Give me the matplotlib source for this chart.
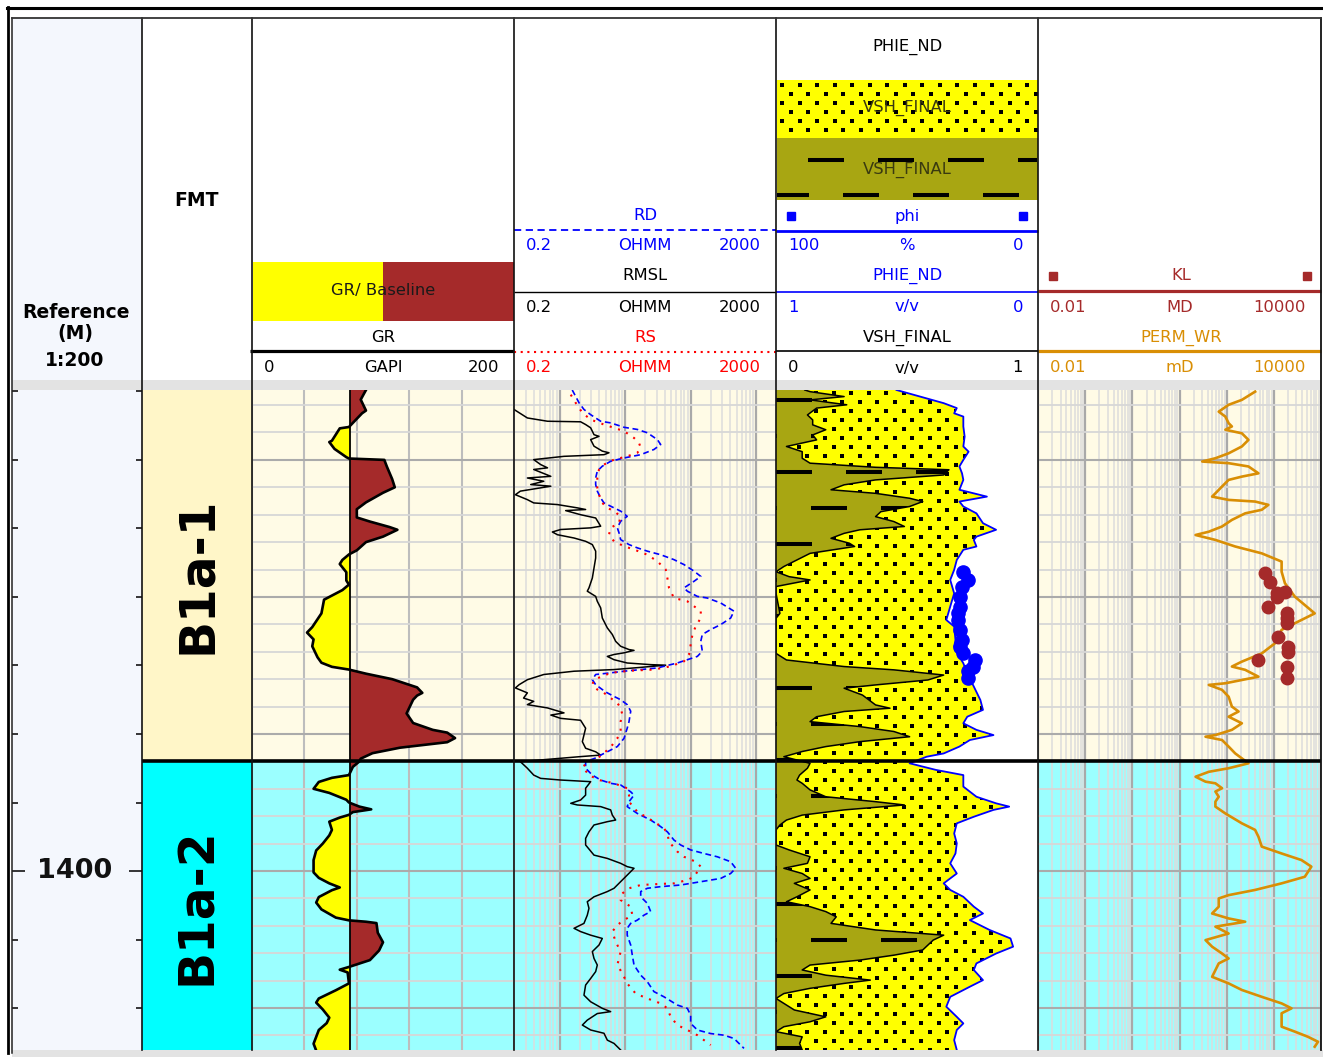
import numpy as np
import matplotlib
matplotlib.use("Agg")
import matplotlib.pyplot as plt
from matplotlib.collections import LineCollection
from matplotlib.patches import Rectangle, Polygon
from matplotlib.ticker import MultipleLocator, LogLocator

plt.rcParams['font.family'] = ['DejaVu Sans']

# ---------------------------------------------------------------- data
DEPTH_TOP, DEPTH_BOT = 1382.45, 1406.53
zone_names = ['B1a-1', 'B1a-2']
zone_top = [1382.45, 1396.0]
zone_base = [1396.0, 1406.53]

GR_RANGE = (0, 200)
GR_BASE = 75
RES_RANGE = (0.2, 2000)
PERM_RANGE = (0.01, 10000)

gr_depth = [1382.45, 1382.8, 1383.2, 1383.3, 1383.6, 1383.8, 1383.85, 1384.3, 1384.35, 1384.6,
            1384.9, 1384.95, 1385.0, 1385.25, 1385.7, 1386.0, 1386.2, 1386.55, 1386.8, 1387.1,
            1387.25, 1387.45, 1387.55, 1387.8, 1388.0, 1388.3, 1388.45, 1388.65, 1388.8, 1389.1,
            1389.4, 1389.55, 1389.75, 1390.0, 1390.1, 1390.6, 1391.1, 1391.3, 1391.55, 1391.8,
            1392.2, 1392.4, 1392.55, 1392.65, 1392.8, 1393.0, 1393.3, 1393.5, 1393.6, 1393.75,
            1394.25, 1394.6, 1394.85, 1394.95, 1395.15, 1395.3, 1395.5, 1395.7, 1395.9, 1396.0,
            1396.2, 1396.5, 1396.6, 1396.75, 1397.0, 1397.15, 1397.4, 1397.5, 1397.65, 1397.75,
            1397.85, 1397.95, 1398.05, 1398.2, 1398.5, 1398.7, 1399.0, 1399.25, 1399.6, 1400.05,
            1400.25, 1400.45, 1400.6, 1400.7, 1400.95, 1401.15, 1401.4, 1401.7, 1401.8, 1401.85,
            1401.9, 1402.25, 1402.6, 1402.9, 1403.25, 1403.5, 1403.6, 1403.7, 1404.1, 1404.35,
            1404.65, 1404.8, 1405.05, 1405.35, 1405.55, 1405.8, 1406.05, 1406.3, 1406.55]
gr_value = [87, 83, 87, 84, 78, 74, 67, 61, 59, 63,
            72, 74, 101, 103, 107, 109, 100, 87, 80, 80,
            90, 105, 111, 100, 87, 80, 74, 69, 67, 72,
            72, 74, 69, 59, 55, 53, 46, 42, 47, 46,
            50, 53, 61, 74, 87, 107, 126, 130, 126, 123,
            118, 123, 138, 149, 155, 149, 113, 92, 83, 82,
            77, 74, 61, 51, 47, 59, 72, 74, 82, 91,
            77, 74, 67, 59, 61, 59, 54, 49, 47, 47,
            51, 59, 67, 61, 51, 49, 53, 64, 74, 87,
            95, 96, 100, 97, 90, 74, 67, 73, 74, 64,
            51, 49, 54, 59, 57, 51, 49, 47, 49]

rmsl_depth = [1382.45, 1383.0, 1383.16, 1383.47, 1383.59, 1383.61, 1383.71, 1383.83, 1384.08, 1384.14,
              1384.26, 1384.50, 1384.68, 1384.74, 1384.81, 1384.87, 1384.99, 1385.17, 1385.29, 1385.35,
              1385.60, 1385.66, 1385.78, 1385.90, 1385.96, 1386.14, 1386.27, 1386.45, 1386.57, 1386.63,
              1386.75, 1386.81, 1386.85, 1387.00, 1387.12, 1387.42, 1387.48, 1387.54, 1387.63, 1387.73,
              1387.85, 1387.97, 1388.09, 1388.33, 1388.58, 1388.94, 1389.31, 1389.67, 1389.79, 1389.98,
              1390.16, 1390.40, 1390.77, 1390.89, 1391.13, 1391.37, 1391.62, 1391.80, 1391.92, 1391.95,
              1392.04, 1392.10, 1392.17, 1392.29, 1392.41, 1392.47, 1392.49, 1392.57, 1392.65, 1392.71,
              1392.83, 1393.02, 1393.20, 1393.32, 1393.50, 1393.69, 1393.81, 1393.93, 1394.05, 1394.23,
              1394.31, 1394.43, 1394.50, 1394.79, 1395.28, 1395.52, 1395.65, 1395.77, 1395.83, 1396.01,
              1396.25, 1396.50, 1396.62, 1396.68, 1396.74, 1396.98, 1397.23, 1397.41, 1397.53, 1397.59,
              1397.65, 1397.77, 1397.96, 1398.14, 1398.20, 1398.32, 1398.57, 1398.81, 1399.05, 1399.42,
              1399.54, 1399.72, 1399.84, 1399.90, 1400.15, 1400.39, 1400.63, 1400.75, 1400.94, 1401.12,
              1401.36, 1401.61, 1401.91, 1402.09, 1402.21, 1402.34, 1402.46, 1402.70, 1402.94, 1403.19,
              1403.43, 1403.67, 1403.92, 1404.16, 1404.53, 1404.77, 1405.01, 1405.13, 1405.20, 1405.44,
              1405.62, 1405.80, 1405.92, 1406.17, 1406.29, 1406.53]
rmsl_value = [0.12, 0.15, 0.2, 0.32, 0.65, 2.08, 2.48, 2.96, 3.33, 3.97,
              2.96, 3.33, 4.46, 5.64, 4.73, 1.16, 0.40, 0.51, 0.65, 0.40,
              0.73, 0.32, 0.57, 0.36, 0.73, 0.25, 0.21, 0.32, 0.40, 0.92,
              1.85, 2.48, 1.23, 2.08, 3.53, 4.21, 2.96, 1.03, 0.77, 0.92,
              1.65, 2.48, 3.14, 3.53, 3.53, 3.33, 3.14, 2.79, 2.63, 3.53,
              3.74, 4.21, 4.46, 4.73, 5.32, 6.34, 7.13, 8.5, 11.4, 13.6,
              9.5, 6.73, 5.32, 6.73, 10.7, 24.4, 41.4, 17.2, 6.73, 1.65,
              0.57, 0.32, 0.24, 0.21, 0.32, 0.28, 0.40, 0.32, 0.65, 1.16,
              0.73, 1.03, 2.08, 2.48, 2.21, 2.48, 3.53, 4.21, 1.97, 0.25,
              0.32, 0.40, 0.51, 1.03, 2.96, 2.48, 2.48, 2.08, 1.47, 1.85,
              4.21, 5.98, 6.34, 7.13, 5.32, 3.33, 2.79, 2.48, 2.48, 3.33,
              5.32, 8.5, 10.7, 13.6, 10.7, 8.5, 6.73, 5.32, 3.33, 2.63,
              2.79, 2.63, 2.34, 1.65, 2.08, 2.96, 4.46, 3.97, 3.14, 3.33,
              3.74, 3.53, 2.96, 2.48, 2.34, 2.96, 4.46, 5.98, 3.74, 2.63,
              2.21, 2.96, 4.73, 5.32, 6.73, 8.5]

rd_depth = [1382.45, 1382.92, 1383.16, 1383.35, 1383.59, 1383.65, 1383.81, 1383.89, 1384.01, 1384.26,
            1384.44, 1384.62, 1384.81, 1384.93, 1385.05, 1385.23, 1385.41, 1385.66, 1385.90, 1386.14,
            1386.39, 1386.57, 1386.69, 1386.87, 1387.06, 1387.24, 1387.48, 1387.66, 1387.91, 1388.09,
            1388.21, 1388.33, 1388.46, 1388.64, 1388.82, 1389.06, 1389.25, 1389.43, 1389.67, 1389.79,
            1389.98, 1390.04, 1390.22, 1390.52, 1390.77, 1391.01, 1391.19, 1391.37, 1391.62, 1391.98,
            1392.17, 1392.29, 1392.41, 1392.59, 1392.65, 1392.71, 1392.77, 1392.83, 1393.02, 1393.20,
            1393.38, 1393.50, 1393.63, 1393.75, 1393.93, 1394.17, 1394.55, 1394.79, 1395.16, 1395.46,
            1395.65, 1395.77, 1395.83, 1396.01, 1396.25, 1396.50, 1396.68, 1396.80, 1396.86, 1397.11,
            1397.23, 1397.47, 1397.65, 1397.90, 1398.14, 1398.38, 1398.57, 1398.87, 1399.05, 1399.23,
            1399.36, 1399.48, 1399.66, 1399.90, 1400.09, 1400.27, 1400.39, 1400.51, 1400.57, 1400.63,
            1400.75, 1400.94, 1401.18, 1401.48, 1401.61, 1401.79, 1401.91, 1402.09, 1402.34, 1402.70,
            1403.07, 1403.43, 1403.80, 1404.04, 1404.40, 1404.59, 1404.89, 1405.01, 1405.26, 1405.56,
            1405.80, 1405.93, 1405.99, 1406.11, 1406.47]
rd_value = [1.55, 1.97, 2.34, 2.96, 4.21, 5.98, 9.56, 15.3, 21.7, 30.9,
            34.7, 27.4, 17.2, 9.56, 5.98, 4.46, 3.74, 3.53, 3.53, 3.74,
            4.21, 4.73, 5.98, 8.5, 10.7, 8.5, 7.56, 8.02, 8.5, 11.4,
            15.3, 21.7, 34.7, 55.4, 78.8, 112, 142, 112, 78.8, 88.6,
            126, 179, 286, 457, 406, 286, 201, 150, 142, 150,
            126, 88.6, 62.3, 30.9, 17.2, 9.56, 5.98, 3.53, 3.14, 3.53,
            4.46, 5.32, 6.73, 8.5, 10.7, 12.1, 11.4, 10.7, 9.56, 7.56,
            5.32, 4.21, 3.97, 2.48, 2.48, 3.14, 4.21, 5.98, 8.5, 12.1,
            13.6, 11.4, 10.7, 15.3, 24.4, 34.7, 43.9, 55.4, 70.1, 99.6,
            159, 254, 406, 485, 406, 286, 142, 70.1, 34.7, 21.7,
            17.2, 17.2, 21.7, 24.4, 19.3, 15.3, 12.1, 10.7, 10.7, 12.1,
            12.8, 13.6, 17.2, 21.7, 27.4, 39.0, 62.3, 88.6, 99.6, 99.6,
            126, 201, 322, 457, 649]

rs_depth = [1382.62, 1382.92, 1383.28, 1383.53, 1383.71, 1383.83, 1383.95, 1384.20, 1384.38, 1384.56,
            1384.74, 1384.87, 1384.99, 1385.17, 1385.35, 1385.66, 1386.02, 1386.27, 1386.57, 1386.75,
            1386.87, 1387.06, 1387.30, 1387.48, 1387.73, 1387.97, 1388.15, 1388.27, 1388.46, 1388.70,
            1389.00, 1389.31, 1389.67, 1390.04, 1390.16, 1390.34, 1390.52, 1390.77, 1391.07, 1391.37,
            1391.74, 1392.10, 1392.35, 1392.53, 1392.65, 1392.69, 1392.77, 1393.02, 1393.20, 1393.38,
            1393.50, 1393.69, 1393.87, 1394.05, 1394.29, 1394.54, 1394.85, 1395.16, 1395.40, 1395.58,
            1395.77, 1396.19, 1396.50, 1396.68, 1396.80, 1396.98, 1397.23, 1397.47, 1397.84, 1398.20,
            1398.44, 1398.63, 1398.93, 1399.29, 1399.48, 1399.66, 1399.84, 1400.21, 1400.33, 1400.45,
            1400.47, 1400.51, 1400.63, 1400.82, 1401.06, 1401.30, 1401.61, 1401.79, 1401.97, 1402.21,
            1402.58, 1402.94, 1403.43, 1403.73, 1404.10, 1404.47, 1404.65, 1404.83, 1405.01, 1405.32,
            1405.62, 1405.80, 1405.99, 1406.17, 1406.35]
rs_value = [1.47, 1.75, 2.21, 2.96, 4.73, 6.73, 9.56, 13.6, 16.2, 17.2,
            15.3, 10.7, 6.73, 4.73, 3.97, 3.74, 3.74, 3.97, 4.46, 5.32,
            6.73, 8.5, 8.02, 5.98, 5.64, 6.73, 9.56, 13.6, 21.7, 30.9,
            41.4, 43.9, 46.5, 55.4, 88.6, 112, 142, 142, 119, 106,
            99.6, 94, 78.8, 49.3, 27.4, 12.1, 5.98, 3.33, 3.14, 3.74,
            4.73, 5.98, 7.56, 8.5, 9.0, 8.5, 8.5, 7.56, 6.34, 5.32,
            4.46, 2.21, 2.79, 3.97, 6.73, 10.7, 11.4, 11.4, 15.3, 27.4,
            39.0, 43.9, 46.5, 62.3, 78.8, 119, 142, 112, 88.6, 55.4,
            34.7, 17.2, 11.4, 9.0, 8.5, 12.1, 12.8, 9.56, 7.56, 6.34,
            7.13, 8.5, 7.56, 9.0, 10.7, 14.4, 21.7, 34.7, 43.9, 49.3,
            62.3, 88.6, 126, 159, 201]

vsh_depth = [1382.45, 1382.51, 1382.69, 1382.81, 1382.99, 1383.11, 1383.36, 1383.54, 1383.72, 1383.90,
             1384.09, 1384.27, 1384.51, 1384.70, 1384.94, 1385.12, 1385.27, 1385.36, 1385.55, 1385.73,
             1385.91, 1386.09, 1386.22, 1386.40, 1386.52, 1386.70, 1386.89, 1387.07, 1387.25, 1387.43,
             1387.55, 1387.68, 1387.86, 1388.04, 1388.16, 1388.41, 1388.65, 1388.89, 1389.08, 1389.26,
             1389.38, 1389.62, 1389.87, 1390.60, 1390.78, 1392.06, 1392.30, 1392.54, 1392.66, 1392.85,
             1393.03, 1393.21, 1393.33, 1393.58, 1393.94, 1394.06, 1394.18, 1394.37, 1394.55, 1394.73,
             1394.91, 1395.10, 1395.28, 1395.46, 1395.64, 1395.83, 1396.07, 1396.25, 1396.50, 1396.68,
             1396.80, 1397.04, 1397.29, 1397.47, 1397.59, 1397.77, 1397.96, 1398.14, 1398.32, 1398.50,
             1398.75, 1399.05, 1399.23, 1399.48, 1399.72, 1399.90, 1400.09, 1400.27, 1400.45, 1400.69,
             1400.94, 1401.12, 1401.30, 1401.48, 1401.67, 1401.91, 1402.15, 1402.34, 1402.52, 1402.70,
             1402.88, 1403.07, 1403.25, 1403.43, 1403.61, 1403.80, 1403.98, 1404.10, 1404.28, 1404.47,
             1404.65, 1404.83, 1405.07, 1405.32, 1405.50, 1405.68, 1405.86, 1406.05, 1406.29, 1406.53]
vsh_value = [0.11, 0.13, 0.26, 0.13, 0.27, 0.155, 0.12, 0.14, 0.14, 0.19,
             0.14, 0.155, 0.04, 0.10, 0.10, 0.13, 0.38, 0.66, 0.64, 0.38,
             0.26, 0.21, 0.38, 0.51, 0.56, 0.51, 0.40, 0.38, 0.45, 0.49,
             0.32, 0.26, 0.21, 0.28, 0.30, 0.13, 0.08, 0.03, 0.0, 0.05,
             0.13, 0.0, 0.0, 0.015, 0.0, 0.0, 0.04, 0.26, 0.45, 0.64,
             0.58, 0.38, 0.26, 0.33, 0.38, 0.435, 0.26, 0.155, 0.13, 0.32,
             0.45, 0.51, 0.32, 0.19, 0.10, 0.03, 0.13, 0.12, 0.09, 0.08,
             0.10, 0.13, 0.19, 0.38, 0.49, 0.26, 0.10, 0.04, 0.015, 0.0,
             0.0, 0.0, 0.05, 0.13, 0.12, 0.03, 0.10, 0.13, 0.07, 0.13,
             0.08, 0.04, 0.13, 0.19, 0.23, 0.21, 0.38, 0.64, 0.60, 0.58,
             0.56, 0.45, 0.32, 0.13, 0.10, 0.19, 0.36, 0.26, 0.13, 0.03,
             0.0, 0.03, 0.07, 0.19, 0.13, 0.03, 0.0, 0.10, 0.09, 0.10]

phie_depth = [1382.45, 1382.69, 1382.93, 1383.11, 1383.30, 1383.42, 1383.78, 1384.15, 1384.51, 1384.70,
              1385.00, 1385.24, 1385.49, 1385.73, 1386.09, 1386.34, 1386.52, 1386.70, 1386.95, 1387.31,
              1387.55, 1387.80, 1387.92, 1388.16, 1388.28, 1388.65, 1389.01, 1389.38, 1389.87, 1390.35,
              1390.84, 1391.08, 1391.57, 1391.81, 1392.18, 1392.42, 1392.79, 1393.27, 1393.76, 1394.12,
              1394.37, 1394.61, 1394.85, 1395.04, 1395.22, 1395.46, 1395.71, 1395.83, 1396.07, 1396.31,
              1396.50, 1396.68, 1396.92, 1397.29, 1397.53, 1397.65, 1397.77, 1398.02, 1398.26, 1398.63,
              1398.99, 1399.36, 1399.72, 1400.09, 1400.45, 1400.69, 1400.94, 1401.30, 1401.55, 1401.79,
              1402.15, 1402.46, 1402.76, 1403.01, 1403.37, 1403.61, 1403.98, 1404.22, 1404.59, 1404.95,
              1405.32, 1405.56, 1405.80, 1406.17, 1406.53]
phie_value = [0.54, 0.45, 0.36, 0.31, 0.32, 0.285, 0.285, 0.28, 0.285, 0.265,
              0.285, 0.30, 0.29, 0.285, 0.30, 0.195, 0.30, 0.285, 0.235, 0.21,
              0.16, 0.235, 0.245, 0.235, 0.285, 0.31, 0.32, 0.335, 0.32, 0.335,
              0.35, 0.32, 0.315, 0.32, 0.30, 0.285, 0.27, 0.245, 0.22, 0.21,
              0.27, 0.285, 0.235, 0.17, 0.26, 0.30, 0.36, 0.425, 0.49, 0.39,
              0.285, 0.285, 0.285, 0.235, 0.16, 0.11, 0.17, 0.245, 0.31, 0.32,
              0.31, 0.315, 0.335, 0.31, 0.36, 0.335, 0.285, 0.245, 0.21, 0.26,
              0.185, 0.105, 0.095, 0.16, 0.235, 0.245, 0.21, 0.26, 0.335, 0.35,
              0.31, 0.285, 0.31, 0.32, 0.31]

phi_depth = [1389.08, 1389.38, 1389.62, 1389.99, 1390.35, 1390.60, 1390.84, 1391.20, 1391.57, 1391.81,
             1392.06, 1392.30, 1392.54, 1392.72, 1392.97]
phi_value = [28.5, 26.6, 29.1, 29.8, 29.8, 30.4, 30.4, 29.8, 29.1, 29.8,
             28.5, 24.0, 24.7, 26.6, 26.6]

perm_depth = [1382.51, 1382.81, 1382.99, 1383.24, 1383.42, 1383.66, 1383.78, 1383.90, 1384.03, 1384.27,
              1384.51, 1384.76, 1384.94, 1385.06, 1385.12, 1385.24, 1385.49, 1385.61, 1385.73, 1385.97,
              1386.22, 1386.34, 1386.46, 1386.52, 1386.64, 1386.82, 1386.95, 1387.19, 1387.43, 1387.62,
              1387.74, 1387.92, 1388.16, 1388.41, 1388.71, 1389.08, 1389.50, 1389.99, 1390.60, 1390.96,
              1391.20, 1391.69, 1392.06, 1392.36, 1392.54, 1392.66, 1392.91, 1393.03, 1393.15, 1393.21,
              1393.39, 1393.64, 1394.00, 1394.18, 1394.37, 1394.61, 1394.85, 1395.04, 1395.10, 1395.22,
              1395.46, 1395.71, 1395.89, 1396.07, 1396.25, 1396.38, 1396.56, 1396.74, 1396.80, 1396.98,
              1397.10, 1397.29, 1397.47, 1397.65, 1397.90, 1398.26, 1398.50, 1398.75, 1399.11, 1399.36,
              1399.60, 1399.84, 1400.21, 1400.45, 1400.69, 1400.88, 1401.00, 1401.30, 1401.55, 1401.73,
              1401.85, 1402.03, 1402.28, 1402.52, 1402.76, 1403.01, 1403.19, 1403.37, 1403.86, 1404.10,
              1404.34, 1404.59, 1404.83, 1405.01, 1405.19, 1405.44, 1405.68, 1405.86, 1406.05, 1406.23,
              1406.41]
perm_value = [401, 210, 110, 67.9, 93.8, 110, 129, 93.8, 210, 290,
              210, 110, 57.7, 30.3, 110, 290, 472, 210, 110, 79.8,
              57.7, 49.1, 110, 401, 766, 555, 247, 129, 79.8, 41.8,
              21.9, 57.7, 152, 555, 1462, 1462, 1718, 2790, 7358, 2790,
              1462, 1059, 555, 210, 129, 247, 472, 210, 93.8, 41.8,
              79.8, 110, 129, 179, 110, 210, 129, 57.7, 35.6, 79.8,
              110, 152, 210, 290, 110, 41.8, 21.9, 35.6, 57.7, 79.8,
              57.7, 67.9, 57.7, 57.7, 93.8, 210, 401, 472, 555, 1462,
              3854, 6252, 4529, 1462, 401, 110, 67.9, 67.9, 49.1, 110,
              247, 57.7, 110, 35.6, 49.1, 79.8, 110, 67.9, 49.1, 110,
              210, 555, 1462, 2372, 1462, 1462, 1462, 2790, 5321, 8650,
              7358]

kl_depth = [1389.14, 1389.44, 1389.81, 1389.87, 1389.99, 1390.35, 1390.6, 1390.78, 1390.96, 1391.45,
            1391.81, 1392.0, 1392.3, 1392.54, 1392.97]
kl_value = [652, 830, 1718, 1148, 1148, 766, 1862, 1862, 1862, 1245,
            2018, 2018, 472, 1862, 1862]

depth_label = 1400
gr_scale = ['0', 'GAPI', '200']
res_scale = ['0.2', 'OHMM', '2000']
phi_scale = ['100', '%', '0']
phie_scale = ['1', 'v/v', '0']
vsh_scale = ['0', 'v/v', '1']
kl_scale = ['0.01', 'MD', '10000']
perm_scale = ['0.01', 'mD', '10000']

# ---------------------------------------------------------------- colours
BLUE, RED, BROWN, ORANGE = '#0000FF', '#FF0000', '#A52A2A', '#D98E04'
YELLOW, OLIVE = '#FFFF00', '#A8A612'
TRACK_BG = ['#FFFBE6', '#9BFFFF']
FMT_BG = ['#FFF6C8', '#00FFFF']
REF_BG = '#F4F7FD'
GAP = '#E3E3E3'

# ---------------------------------------------------------------- layout (pixels)
W, H = 1323, 1057
fig = plt.figure(figsize=(W / 100, H / 100), dpi=100)
fig.patch.set_facecolor('white')
X_REF, X_FMT, X_GR, X_RES, X_POR, X_PERM, X_END = 12, 142, 252, 514, 776, 1038, 1321
Y_HEAD, Y_GAP, Y_DATA, Y_BOT = 18, 380, 390, 1050


def px_axes(x0, y0, x1, y1, z=1):
    return fig.add_axes([x0 / W, 1 - y1 / H, (x1 - x0) / W, (y1 - y0) / H], zorder=z)


bg = px_axes(0, 0, W, H, z=0)
bg.set_xlim(0, W); bg.set_ylim(H, 0); bg.axis('off')
fg = px_axes(0, 0, W, H, z=20)
fg.set_xlim(0, W); fg.set_ylim(H, 0); fg.axis('off')

bg.add_patch(Rectangle((X_REF, Y_HEAD), X_FMT - X_REF, Y_BOT - Y_HEAD, color=REF_BG, lw=0))
bg.add_patch(Rectangle((X_REF, Y_GAP), X_END - X_REF, Y_DATA - Y_GAP, color=GAP, lw=0))
bg.add_patch(Rectangle((X_REF, Y_BOT), W - X_REF, H - Y_BOT, color=GAP, lw=0))


def style_track(ax):
    ax.set_ylim(DEPTH_BOT, DEPTH_TOP)
    for s in ax.spines.values():
        s.set_visible(False)
    ax.tick_params(which='both', length=0, labelbottom=False, labelleft=False,
                   labeltop=False, labelright=False)


def depth_grid(ax, log_x=False):
    ax.set_axisbelow(True)
    ax.yaxis.set_major_locator(MultipleLocator(5))
    ax.yaxis.set_minor_locator(MultipleLocator(1))
    if log_x:
        ax.xaxis.set_major_locator(LogLocator(base=10, numticks=20))
        ax.xaxis.set_minor_locator(LogLocator(base=10, subs=np.arange(2, 10), numticks=20))
        ax.grid(axis='x', which='minor', color='#DCDCDC', lw=1.1)
        ax.grid(axis='x', which='major', color='#A9A9A9', lw=1.6)
    else:
        ax.xaxis.set_major_locator(MultipleLocator(40))
        ax.grid(axis='x', which='major', color='#BDBDBD', lw=1.5)
    ax.grid(axis='y', which='minor', color='#D7D7D7', lw=1.3)
    ax.grid(axis='y', which='major', color='#ABABAB', lw=1.5)


def zone_backgrounds(ax, colours):
    for top, base, col in zip(zone_top, zone_base, colours):
        ax.axhspan(top, base, color=col, lw=0, zorder=0)


def zone_lines(ax):
    for top in zone_top[1:]:
        ax.axhline(top, color='black', lw=2.6, zorder=8)


# ---------------------------------------------------------------- depth column
ax_ref = px_axes(X_REF, Y_DATA, X_FMT, Y_BOT, z=2)
ax_ref.set_xlim(0, 1)
ax_ref.set_ylim(DEPTH_BOT, DEPTH_TOP)
ax_ref.patch.set_visible(False)
for s in ax_ref.spines.values():
    s.set_visible(False)
ax_ref.yaxis.set_major_locator(MultipleLocator(20))
ax_ref.yaxis.set_minor_locator(MultipleLocator(2.5))
ax_ref.tick_params(axis='y', which='both', direction='in', left=True, right=True,
                   labelleft=False, width=1.1, color='black')
ax_ref.tick_params(axis='y', which='minor', length=4.5)
ax_ref.tick_params(axis='y', which='major', length=9.5)
ax_ref.tick_params(axis='x', length=0, labelbottom=False)
ax_ref.text(0.48, depth_label, str(depth_label), ha='center', va='center',
            fontsize=19.5, fontweight='bold', color='#111111')

# ---------------------------------------------------------------- zone column
ax_fmt = px_axes(X_FMT, Y_DATA, X_GR, Y_BOT, z=2)
style_track(ax_fmt)
ax_fmt.set_xlim(0, 1)
zone_backgrounds(ax_fmt, FMT_BG)
zone_lines(ax_fmt)
for name, top, base in zip(zone_names, zone_top, zone_base):
    ax_fmt.text(0.5, (top + base) / 2, name, rotation=90, ha='center', va='center',
                fontsize=35, fontweight='bold', color='black')

# ---------------------------------------------------------------- GR track
ax_gr = px_axes(X_GR, Y_DATA, X_RES, Y_BOT, z=2)
style_track(ax_gr)
ax_gr.set_xlim(*GR_RANGE)
depth_grid(ax_gr)
zone_backgrounds(ax_gr, TRACK_BG)
gr_d = np.array(gr_depth); gr_v = np.array(gr_value, dtype=float)
ax_gr.fill_betweenx(gr_d, GR_BASE, gr_v, where=gr_v <= GR_BASE, interpolate=True,
                    color=YELLOW, lw=0, zorder=2)
ax_gr.fill_betweenx(gr_d, GR_BASE, gr_v, where=gr_v >= GR_BASE, interpolate=True,
                    color=BROWN, lw=0, zorder=2)
ax_gr.axvline(GR_BASE, color='black', lw=1.3, zorder=3)
ax_gr.plot(gr_v, gr_d, color='black', lw=1.9, zorder=4)
zone_lines(ax_gr)

# ---------------------------------------------------------------- resistivity track
ax_res = px_axes(X_RES, Y_DATA, X_POR, Y_BOT, z=2)
ax_res.set_xscale('log')
style_track(ax_res)
ax_res.set_xlim(*RES_RANGE)
depth_grid(ax_res, log_x=True)
zone_backgrounds(ax_res, TRACK_BG)
ax_res.plot(rmsl_value, rmsl_depth, color='black', lw=1.1, zorder=3)
ax_res.plot(rd_value, rd_depth, color=BLUE, lw=1.2, ls=(0, (3.5, 2.2)), zorder=4)
ax_res.plot(rs_value, rs_depth, color=RED, lw=1.5, ls=(0, (1, 3.2)), zorder=5)
zone_lines(ax_res)

# ---------------------------------------------------------------- porosity / shale track
ax_por = px_axes(X_POR, Y_DATA, X_PERM, Y_BOT, z=2)
style_track(ax_por)
ax_por.set_xlim(0, 1)
ax_por.set_facecolor('white')
ax_phie = px_axes(X_POR, Y_DATA, X_PERM, Y_BOT, z=3)
ax_phie.set_xlim(1, 0); ax_phie.set_ylim(DEPTH_BOT, DEPTH_TOP); ax_phie.axis('off')
ax_phi = px_axes(X_POR, Y_DATA, X_PERM, Y_BOT, z=4)
ax_phi.set_xlim(100, 0); ax_phi.set_ylim(DEPTH_BOT, DEPTH_TOP); ax_phi.axis('off')

vsh_pts = np.column_stack([vsh_value, vsh_depth])
phie_pts = ax_por.transData.inverted().transform(
    ax_phie.transData.transform(np.column_stack([phie_value, phie_depth])))

shale = Polygon(np.vstack([[0, vsh_depth[0]], vsh_pts, [0, vsh_depth[-1]]]),
                closed=True, facecolor=OLIVE, edgecolor='none', zorder=1)
sand = Polygon(np.vstack([vsh_pts, phie_pts[::-1]]), closed=True,
               facecolor=YELLOW, edgecolor='none', zorder=1)
ax_por.add_patch(shale)
ax_por.add_patch(sand)

ppm = (Y_BOT - Y_DATA) / (DEPTH_BOT - DEPTH_TOP)   # pixels per metre
tw = X_PERM - X_POR                                 # track width in pixels

# sand texture: staggered dots
dx, dd = 17.5 / tw, 9.0 / ppm
dot_x, dot_y = [], []
for i, d in enumerate(np.arange(DEPTH_TOP + 0.1, DEPTH_BOT, dd)):
    off = (i % 2) * dx / 2
    for x in np.arange(0.02 + off, 1.0, dx):
        dot_x.append(x); dot_y.append(d)
dots = ax_por.scatter(dot_x, dot_y, marker='s', s=6.5, color='black', lw=0, zorder=2)
dots.set_clip_path(sand)

# shale texture: staggered dashes
segs = []
for i, d in enumerate(np.arange(DEPTH_TOP + 0.35, DEPTH_BOT, 36 / ppm)):
    off = (i % 2) * 35 / tw
    for x in np.arange(-70 / tw + off, 1.0, 70 / tw):
        segs.append([(x, d), (x + 36 / tw, d)])
dashes = LineCollection(segs, colors='black', linewidths=2.9, capstyle='butt', zorder=2)
ax_por.add_collection(dashes)
dashes.set_clip_path(shale)

ax_por.plot(vsh_value, vsh_depth, color='black', lw=1.1, zorder=3)
ax_phie.plot(phie_value, phie_depth, color=BLUE, lw=1.3, zorder=3)
ax_phi.plot(phi_value, phi_depth, 'o', color=BLUE, ms=9.5, mec=BLUE, zorder=4)
zone_lines(ax_phi)

# ---------------------------------------------------------------- permeability track
ax_perm = px_axes(X_PERM, Y_DATA, X_END, Y_BOT, z=2)
ax_perm.set_xscale('log')
style_track(ax_perm)
ax_perm.set_xlim(*PERM_RANGE)
depth_grid(ax_perm, log_x=True)
zone_backgrounds(ax_perm, TRACK_BG)
ax_perm.plot(perm_value, perm_depth, color=ORANGE, lw=1.9, zorder=3)
ax_perm.plot(kl_value, kl_depth, 'o', color=BROWN, ms=9, mec=BROWN, zorder=4)
zone_lines(ax_perm)

# ---------------------------------------------------------------- header
HS = 11.8


def htxt(x, y, s, color='black', ha='center', size=HS, weight='normal'):
    fg.text(x, y, s, color=color, ha=ha, va='center', fontsize=size, fontweight=weight)


def scale_row(x0, x1, y, labels, color):
    htxt(x0 + 12, y, labels[0], color, ha='left')
    htxt((x0 + x1) / 2, y, labels[1], color)
    htxt(x1 - 15, y, labels[2], color, ha='right')


def hline(x0, x1, y, color='black', lw=1.1, ls='-'):
    fg.plot([x0, x1], [y, y], color=color, lw=lw, ls=ls, solid_capstyle='butt')


# depth column
htxt(76, 313, 'Reference', size=13.5, weight='bold')
htxt(75, 333, '(M)', size=13.5, weight='bold')
htxt(75, 361, '1:200', size=13.5, weight='bold')
# zone column
htxt(197, 200, 'FMT', size=13.5, weight='bold')

# GR: fill legend, yellow on the left half, brown on the right half
gx = (X_GR + X_RES) / 2
fg.add_patch(Rectangle((X_GR + 1, 262), gx - X_GR - 1, 59, color=YELLOW, lw=0))
fg.add_patch(Rectangle((gx, 262), X_RES - gx, 59, color=BROWN, lw=0))
htxt(gx, 290, 'GR/ Baseline', color='#1A1A1A')
htxt(gx, 338, 'GR')
hline(X_GR - 2, X_RES, 351, lw=2.3)
scale_row(X_GR, X_RES, 368, gr_scale, 'black')

# resistivity
rx = (X_RES + X_POR) / 2
htxt(rx, 216, 'RD', BLUE)
hline(X_RES, X_POR, 230, BLUE, lw=1.3, ls=(0, (4, 2.5)))
scale_row(X_RES, X_POR, 246, res_scale, BLUE)
htxt(rx, 276, 'RMSL')
hline(X_RES, X_POR, 292, 'black', lw=1.0)
scale_row(X_RES, X_POR, 307, res_scale, 'black')
htxt(rx, 338, 'RS', RED)
hline(X_RES, X_POR, 352, RED, lw=1.5, ls=(0, (1, 2.2)))
scale_row(X_RES, X_POR, 368, res_scale, RED)

# porosity / shale
px_ = (X_POR + X_PERM) / 2
htxt(px_, 47, 'PHIE_ND')
fg.add_patch(Rectangle((X_POR + 1, 80), tw - 1, 58, color=YELLOW, lw=0))
fg.add_patch(Rectangle((X_POR + 1, 138), tw - 1, 62, color=OLIVE, lw=0))
hx, hy = [], []
for i, y in enumerate(np.arange(85, 136, 9)):
    off = (i % 2) * 8.75
    for x in np.arange(X_POR + 6 + off, X_PERM - 2, 17.5):
        hx.append(x); hy.append(y)
fg.scatter(hx, hy, marker='s', s=6.5, color='black', lw=0)
hsegs = []
for y, off in ((160, 32), (195, -3)):
    for x in np.arange(X_POR + off, X_PERM, 70):
        hsegs.append([(max(x, X_POR + 1), y), (min(x + 36, X_PERM - 1), y)])
fg.add_collection(LineCollection(hsegs, colors='black', linewidths=2.9, capstyle='butt'))
htxt(px_, 108, 'VSH_FINAL', color='#3A3A10')
htxt(px_, 170, 'VSH_FINAL', color='#3A3A10')
htxt(px_, 216, 'phi', BLUE)
fg.plot([X_POR + 15, X_PERM - 15], [216, 216], 's', color=BLUE, ms=5.5, ls='none')
hline(X_POR, X_PERM, 231, BLUE, lw=2.0)
scale_row(X_POR, X_PERM, 246, phi_scale, BLUE)
htxt(px_, 276, 'PHIE_ND', BLUE)
hline(X_POR, X_PERM, 292, BLUE, lw=1.2)
scale_row(X_POR, X_PERM, 307, phie_scale, BLUE)
htxt(px_, 338, 'VSH_FINAL')
hline(X_POR, X_PERM, 351, 'black', lw=1.2)
scale_row(X_POR, X_PERM, 368, vsh_scale, 'black')

# permeability
htxt(1181, 276, 'KL', BROWN)
fg.plot([X_PERM + 15, X_END - 14], [276, 276], 's', color=BROWN, ms=5.5, ls='none')
hline(X_PERM, X_END, 291, BROWN, lw=2.3)
scale_row(X_PERM, X_END, 307, kl_scale, BROWN)
htxt(1181, 338, 'PERM_WR', ORANGE)
hline(X_PERM, X_END, 351, ORANGE, lw=2.3)
scale_row(X_PERM, X_END, 368, perm_scale, ORANGE)

# ---------------------------------------------------------------- frame
for x in (X_FMT, X_GR, X_RES, X_POR, X_PERM):
    fg.plot([x, x], [Y_HEAD, Y_BOT], color='#111111', lw=1.2)
fg.plot([X_END, X_END], [Y_HEAD, Y_BOT], color='#111111', lw=1.3)
fg.plot([8, 8], [7, Y_BOT + 3], color='black', lw=2.0)
fg.plot([X_REF, X_REF], [Y_HEAD, Y_BOT + 3], color='#222222', lw=1.1)
fg.plot([7, W], [7.5, 7.5], color='black', lw=2.2)
fg.plot([X_REF, X_END], [Y_HEAD, Y_HEAD], color='#333333', lw=1.3)

fig.savefig('out.png', dpi=100)
